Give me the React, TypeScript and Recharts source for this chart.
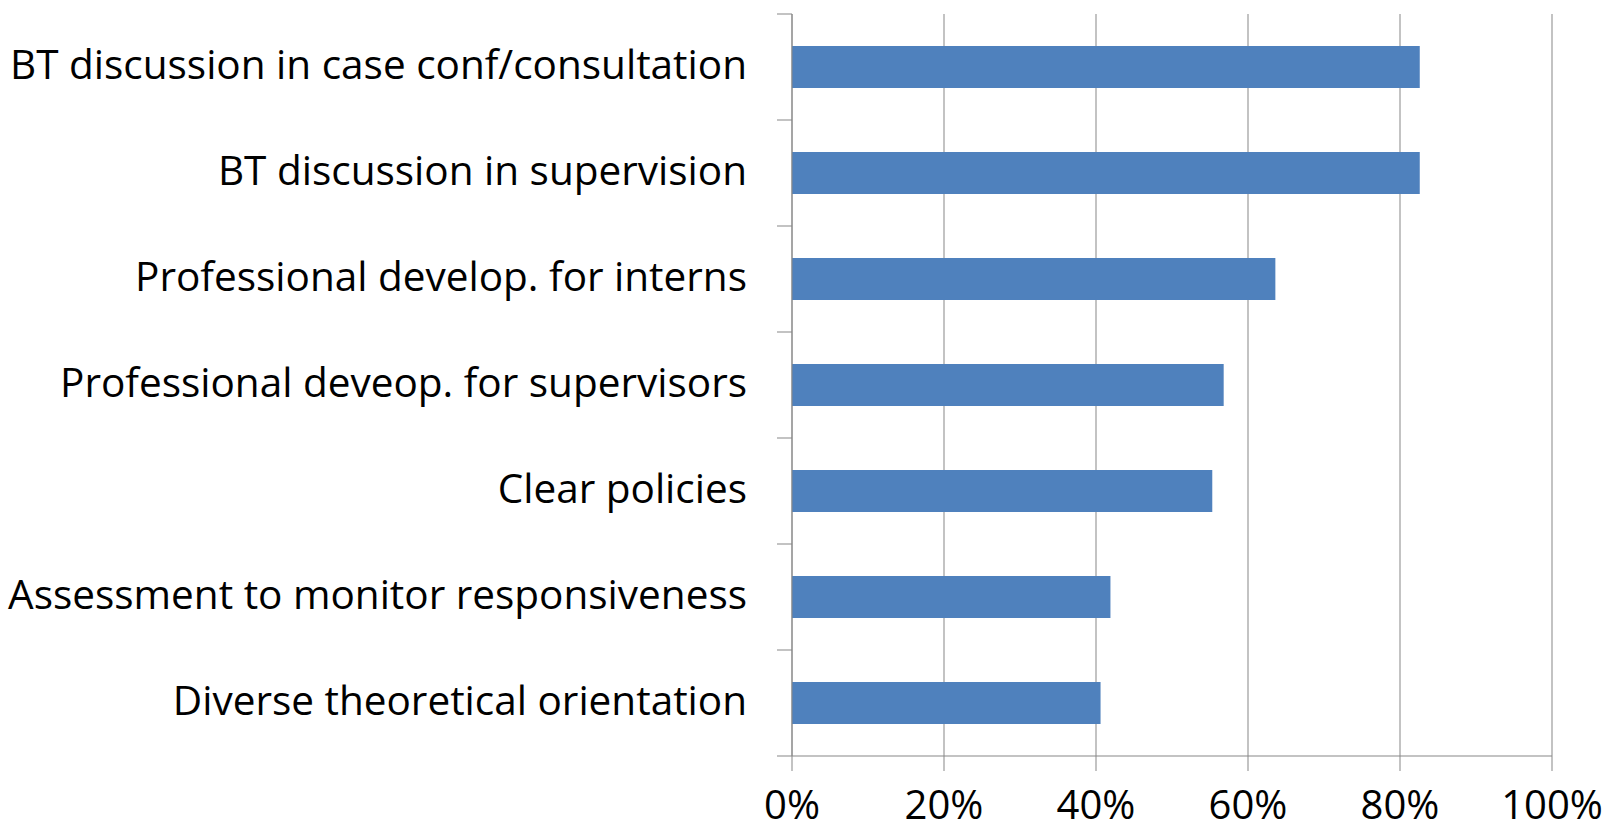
import { BarChart, Bar, XAxis, YAxis, CartesianGrid } from "recharts";

const categories = [
  "BT discussion in case conf/consultation",
  "BT discussion in supervision",
  "Professional develop. for interns",
  "Professional deveop. for supervisors",
  "Clear policies",
  "Assessment to monitor responsiveness",
  "Diverse theoretical orientation",
];

const shares = [0.826, 0.826, 0.636, 0.568, 0.553, 0.419, 0.406];

const xTicks = [0, 0.2, 0.4, 0.6, 0.8, 1];

const data = categories.map((name, i) => ({ name, share: shares[i] }));

const GRID = "#878787";
const FONT = "'Open Sans', Lato, sans-serif";
const TICK_SIZE = 15;
const TICK_MARGIN = 30;

// Category labels plus the short tick marks that sit on the band edges
function CategoryTick(props: any) {
  const { x, y, payload, index, visibleTicksCount, height } = props;
  const half = payload?.offset || height / visibleTicksCount / 2;
  const x1 = x + TICK_MARGIN;
  const x2 = x1 + TICK_SIZE;
  return (
    <g>
      <line x1={x1} x2={x2} y1={y - half} y2={y - half} stroke={GRID} />
      {index === visibleTicksCount - 1 && (
        <line x1={x1} x2={x2} y1={y + half} y2={y + half} stroke={GRID} />
      )}
      <text
        x={x}
        y={y}
        dy="0.3em"
        textAnchor="end"
        fill="#000"
        fontSize={40.5}
        fontFamily={FONT}
      >
        {payload.value}
      </text>
    </g>
  );
}

export default function App() {
  return (
    <div style={{ position: "absolute", left: 0, top: 0, background: "#fff" }}>
      <BarChart
        width={1620}
        height={833}
        data={data}
        layout="vertical"
        margin={{ top: 14, right: 68, bottom: 0, left: 0 }}
      >
        <CartesianGrid horizontal={false} stroke={GRID} />
        <XAxis
          type="number"
          domain={[0, 1]}
          ticks={xTicks}
          interval={0}
          height={77}
          tickSize={TICK_SIZE}
          tickMargin={20}
          tickFormatter={(v: number) => `${Math.round(v * 100)}%`}
          axisLine={{ stroke: GRID }}
          tickLine={{ stroke: GRID }}
          tick={{ fill: "#000", fontSize: 40, fontFamily: FONT }}
        />
        <YAxis
          type="category"
          dataKey="name"
          width={792}
          interval={0}
          tickSize={TICK_SIZE}
          tickMargin={TICK_MARGIN}
          tickLine={false}
          axisLine={{ stroke: GRID }}
          tick={<CategoryTick />}
        />
        <Bar dataKey="share" fill="#4f81bd" barSize={42} isAnimationActive={false} />
      </BarChart>
    </div>
  );
}
